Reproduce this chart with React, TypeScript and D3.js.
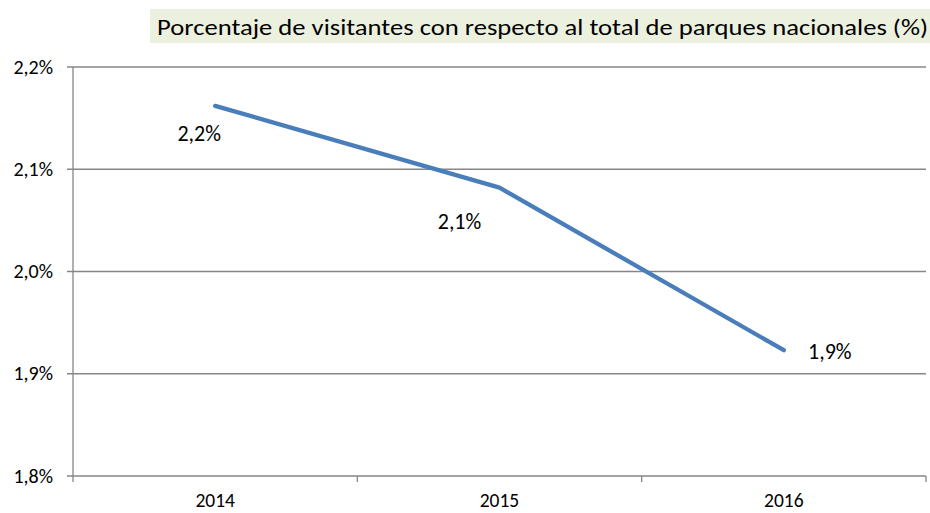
import React from 'react';
import * as d3 from 'd3';

const width = 930;
const height = 513;

const years = ['2014', '2015', '2016'];
const shares = [2.162, 2.082, 1.923];
const yTicks = [1.8, 1.9, 2.0, 2.1, 2.2];
const title = 'Porcentaje de visitantes con respecto al total de parques nacionales (%)';

// where Excel had put each data label, relative to its point
const labelOffsets: [number, number][] = [[-16, 35], [-40, 41], [46, 9]];

const fmt = (v: number) => d3.format('.1f')(v).replace('.', ',') + '%';
const font = 'Carlito, Calibri, "Open Sans", sans-serif';

const App = () => {
  const x = d3.scaleBand().domain(years).range([73, 926]).padding(0);
  const y = d3.scaleLinear().domain([1.8, 2.2]).range([476, 67]);

  const line = d3.line<number>()
    .x((d, i) => x(years[i])! + x.bandwidth() / 2)
    .y(d => y(d));

  const bounds = [...years.map(c => x(c)!), 926];

  return (
    <svg width={width} height={height} style={{ position: 'absolute', left: 0, top: 0, background: '#fff' }}
      fontFamily={font}>
      <rect x={150} y={9} width={780} height={34} fill="#EBF1DE" />
      <text x={157} y={35} fontSize={23} fill="#000" textLength={771} lengthAdjust="spacingAndGlyphs">{title}</text>

      {yTicks.map(t => (
        <g key={t}>
          <line x1={67} x2={926} y1={y(t)} y2={y(t)} stroke="#868686" strokeWidth={1.3} />
          <text x={53} y={y(t) + 6.5} fontSize={20} textAnchor="end" fill="#000">{fmt(t)}</text>
        </g>
      ))}
      <line x1={73} x2={73} y1={67} y2={476} stroke="#868686" strokeWidth={1.3} />
      {bounds.map((b, i) => (
        <line key={i} x1={b} x2={b} y1={476} y2={482} stroke="#868686" strokeWidth={1.3} />
      ))}
      {years.map(c => (
        <text key={c} x={x(c)! + x.bandwidth() / 2} y={507} fontSize={19.5} textAnchor="middle" fill="#000">{c}</text>
      ))}

      <path d={line(shares)!} fill="none" stroke="#4A7EBB" strokeWidth={4.3} strokeLinecap="round" strokeLinejoin="round" />

      {shares.map((v, i) => (
        <text key={i} x={x(years[i])! + x.bandwidth() / 2 + labelOffsets[i][0]} y={y(v) + labelOffsets[i][1]}
          fontSize={22} textAnchor="middle" fill="#000">{fmt(Math.round(v * 10) / 10)}</text>
      ))}
    </svg>
  );
};

export default App;
